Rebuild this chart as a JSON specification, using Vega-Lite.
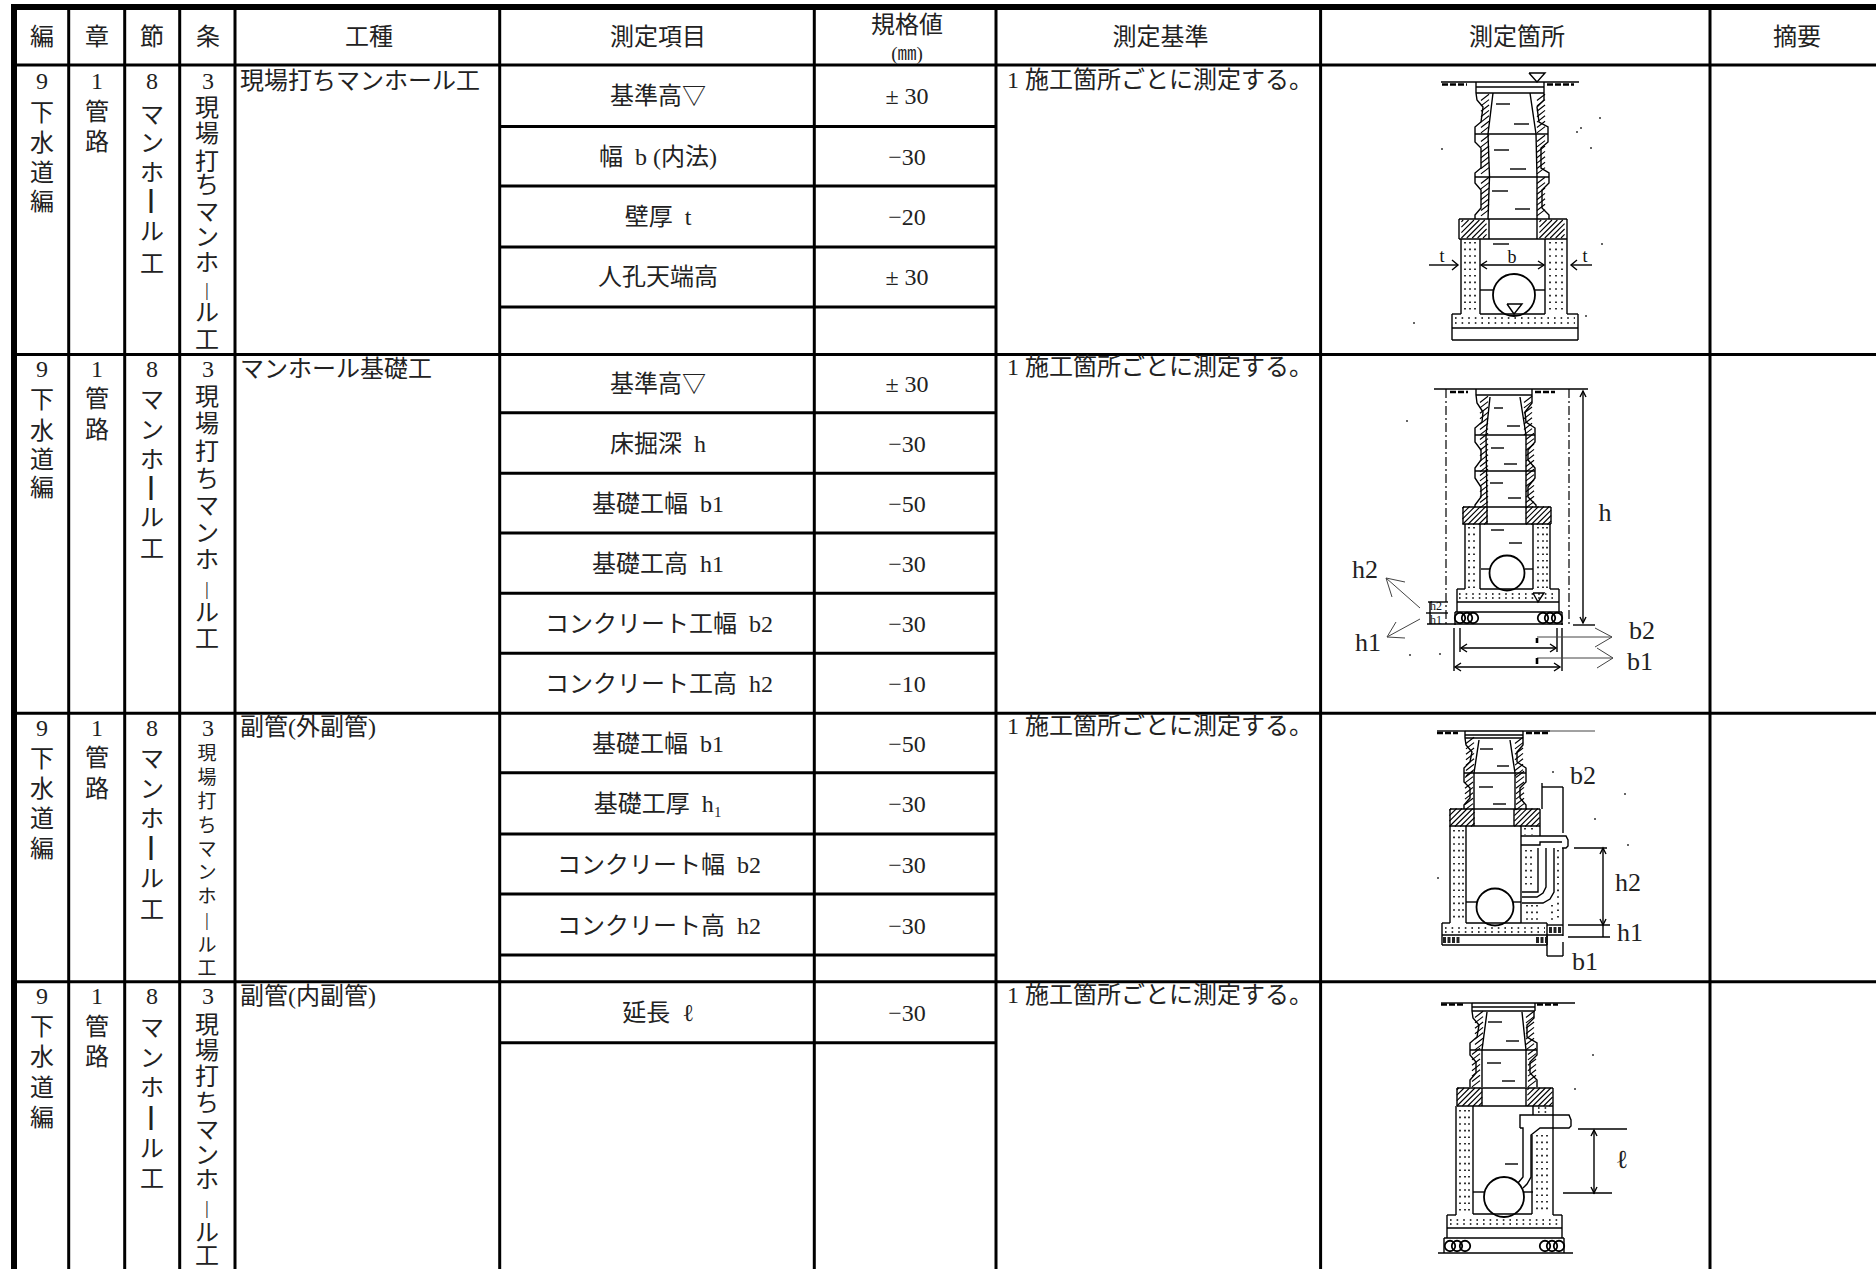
{"$schema":"https://vega.github.io/schema/vega-lite/v6.json","width":1876,"height":1269,"autosize":{"type":"none"},"padding":0,"background":"white","config":{"view":{"stroke":null}},
"datasets":{
"border":[{"x":11,"y":7,"x2":1876,"y2":7},{"x":14,"y":4,"x2":14,"y2":1269}],
"grid":[{"x":68.7,"y":7,"x2":68.7,"y2":1269},{"x":124.7,"y":7,"x2":124.7,"y2":1269},{"x":179.7,"y":7,"x2":179.7,"y2":1269},{"x":235,"y":7,"x2":235,"y2":1269},{"x":499.7,"y":7,"x2":499.7,"y2":1269},{"x":814.3,"y":7,"x2":814.3,"y2":1269},{"x":996,"y":7,"x2":996,"y2":1269},{"x":1320.6,"y":7,"x2":1320.6,"y2":1269},{"x":1710,"y":7,"x2":1710,"y2":1269},
{"x":14,"y":65,"x2":1876,"y2":65},{"x":14,"y":354.5,"x2":1876,"y2":354.5},{"x":14,"y":713.3,"x2":1876,"y2":713.3},{"x":14,"y":981.7,"x2":1876,"y2":981.7},
{"x":499.7,"y":126.5,"x2":996,"y2":126.5},{"x":499.7,"y":186,"x2":996,"y2":186},{"x":499.7,"y":247,"x2":996,"y2":247},{"x":499.7,"y":307,"x2":996,"y2":307},
{"x":499.7,"y":412.7,"x2":996,"y2":412.7},{"x":499.7,"y":473.3,"x2":996,"y2":473.3},{"x":499.7,"y":533,"x2":996,"y2":533},{"x":499.7,"y":593.3,"x2":996,"y2":593.3},{"x":499.7,"y":653.3,"x2":996,"y2":653.3},
{"x":499.7,"y":772.7,"x2":996,"y2":772.7},{"x":499.7,"y":834,"x2":996,"y2":834},{"x":499.7,"y":894,"x2":996,"y2":894},{"x":499.7,"y":955,"x2":996,"y2":955},{"x":499.7,"y":1042.7,"x2":996,"y2":1042.7}],
"cells":[{"x":42,"y":36,"t":"編"},{"x":97,"y":36,"t":"章"},{"x":152,"y":36,"t":"節"},{"x":208,"y":36,"t":"条"},{"x":369,"y":36,"t":"工種"},{"x":658,"y":36,"t":"測定項目"},{"x":907,"y":24,"t":"規格値"},{"x":1160.5,"y":36,"t":"測定基準"},{"x":1517,"y":36,"t":"測定箇所"},{"x":1797,"y":36,"t":"摘要"},
{"x":658,"y":95,"t":"基準高▽"},{"x":658,"y":156,"t":"幅\u00a0\u00a0b (内法)"},{"x":658,"y":216,"t":"壁厚\u00a0\u00a0t"},{"x":658,"y":276,"t":"人孔天端高"},
{"x":907,"y":95,"t":"± 30"},{"x":907,"y":156,"t":"−30"},{"x":907,"y":216,"t":"−20"},{"x":907,"y":276,"t":"± 30"},
{"x":658,"y":383,"t":"基準高▽"},{"x":658,"y":443,"t":"床掘深\u00a0\u00a0h"},{"x":658,"y":503,"t":"基礎工幅\u00a0\u00a0b1"},{"x":658,"y":563,"t":"基礎工高\u00a0\u00a0h1"},{"x":659,"y":623,"t":"コンクリート工幅\u00a0\u00a0b2"},{"x":659,"y":683,"t":"コンクリート工高\u00a0\u00a0h2"},
{"x":907,"y":383,"t":"± 30"},{"x":907,"y":443,"t":"−30"},{"x":907,"y":503,"t":"−50"},{"x":907,"y":563,"t":"−30"},{"x":907,"y":623,"t":"−30"},{"x":907,"y":683,"t":"−10"},
{"x":658,"y":743,"t":"基礎工幅\u00a0\u00a0b1"},{"x":658,"y":803,"t":"基礎工厚\u00a0\u00a0h₁"},{"x":659,"y":864,"t":"コンクリート幅\u00a0\u00a0b2"},{"x":659,"y":925,"t":"コンクリート高\u00a0\u00a0h2"},
{"x":907,"y":743,"t":"−50"},{"x":907,"y":803,"t":"−30"},{"x":907,"y":864,"t":"−30"},{"x":907,"y":925,"t":"−30"},
{"x":658,"y":1012,"t":"延長\u00a0\u00a0ℓ"},{"x":907,"y":1012,"t":"−30"},
{"x":42,"y":80,"t":"9"},{"x":42,"y":112,"t":"下"},{"x":42,"y":142,"t":"水"},{"x":42,"y":172,"t":"道"},{"x":42,"y":201,"t":"編"},{"x":97,"y":80,"t":"1"},{"x":97,"y":111,"t":"管"},{"x":97,"y":141,"t":"路"},
{"x":152,"y":80,"t":"8"},{"x":152,"y":114,"t":"マ"},{"x":152,"y":142,"t":"ン"},{"x":152,"y":172,"t":"ホ"},{"x":151,"y":201,"t":"┃"},{"x":152,"y":231,"t":"ル"},{"x":152,"y":263,"t":"工"},
{"x":208,"y":80,"t":"3"},{"x":207,"y":107,"t":"現"},{"x":207,"y":133,"t":"場"},{"x":207,"y":161,"t":"打"},{"x":207,"y":184,"t":"ち"},{"x":207,"y":211,"t":"マ"},{"x":207,"y":236,"t":"ン"},{"x":207,"y":262,"t":"ホ"},{"x":207,"y":312,"t":"ル"},{"x":207,"y":339,"t":"工"},
{"x":42,"y":368,"t":"9"},{"x":42,"y":399,"t":"下"},{"x":42,"y":430,"t":"水"},{"x":42,"y":459,"t":"道"},{"x":42,"y":487,"t":"編"},{"x":97,"y":368,"t":"1"},{"x":97,"y":398,"t":"管"},{"x":97,"y":429,"t":"路"},
{"x":152,"y":368,"t":"8"},{"x":152,"y":399,"t":"マ"},{"x":152,"y":429,"t":"ン"},{"x":152,"y":459,"t":"ホ"},{"x":151,"y":488,"t":"┃"},{"x":152,"y":517,"t":"ル"},{"x":152,"y":548,"t":"工"},
{"x":208,"y":368,"t":"3"},{"x":207,"y":396,"t":"現"},{"x":207,"y":423,"t":"場"},{"x":207,"y":451,"t":"打"},{"x":207,"y":478,"t":"ち"},{"x":207,"y":505,"t":"マ"},{"x":207,"y":532,"t":"ン"},{"x":207,"y":559,"t":"ホ"},{"x":207,"y":612,"t":"ル"},{"x":207,"y":638,"t":"工"},
{"x":42,"y":727,"t":"9"},{"x":42,"y":758,"t":"下"},{"x":42,"y":788,"t":"水"},{"x":42,"y":818,"t":"道"},{"x":42,"y":848,"t":"編"},{"x":97,"y":727,"t":"1"},{"x":97,"y":757,"t":"管"},{"x":97,"y":788,"t":"路"},
{"x":152,"y":727,"t":"8"},{"x":152,"y":758,"t":"マ"},{"x":152,"y":788,"t":"ン"},{"x":152,"y":818,"t":"ホ"},{"x":151,"y":848,"t":"┃"},{"x":152,"y":878,"t":"ル"},{"x":152,"y":909,"t":"工"},{"x":208,"y":727,"t":"3"},
{"x":42,"y":995,"t":"9"},{"x":42,"y":1026,"t":"下"},{"x":42,"y":1056,"t":"水"},{"x":42,"y":1087,"t":"道"},{"x":42,"y":1117,"t":"編"},{"x":97,"y":995,"t":"1"},{"x":97,"y":1026,"t":"管"},{"x":97,"y":1056,"t":"路"},
{"x":152,"y":995,"t":"8"},{"x":152,"y":1027,"t":"マ"},{"x":152,"y":1057,"t":"ン"},{"x":152,"y":1087,"t":"ホ"},{"x":151,"y":1118,"t":"┃"},{"x":152,"y":1148,"t":"ル"},{"x":152,"y":1178,"t":"工"},
{"x":208,"y":995,"t":"3"},{"x":207,"y":1024,"t":"現"},{"x":207,"y":1050,"t":"場"},{"x":207,"y":1076,"t":"打"},{"x":207,"y":1102,"t":"ち"},{"x":207,"y":1129,"t":"マ"},{"x":207,"y":1154,"t":"ン"},{"x":207,"y":1179,"t":"ホ"},{"x":207,"y":1232,"t":"ル"},{"x":207,"y":1255,"t":"工"}],
"small":[{"x":207,"y":754,"t":"現"},{"x":207,"y":778,"t":"場"},{"x":207,"y":802,"t":"打"},{"x":207,"y":826,"t":"ち"},{"x":207,"y":850,"t":"マ"},{"x":207,"y":873,"t":"ン"},{"x":207,"y":897,"t":"ホ"},{"x":207,"y":920,"t":"|"},{"x":207,"y":946,"t":"ル"},{"x":207,"y":969,"t":"工"},{"x":907,"y":54,"t":"(㎜)"},{"x":207,"y":290,"t":"|"},{"x":207,"y":589,"t":"|"},{"x":207,"y":1208,"t":"|"}],
"left":[{"x":240,"y":82,"t":"現場打ちマンホール工"},{"x":240,"y":370,"t":"マンホール基礎工"},{"x":240,"y":728,"t":"副管(外副管)"},{"x":240,"y":997,"t":"副管(内副管)"},{"x":1007,"y":81,"t":"1 施工箇所ごとに測定する。"},{"x":1007,"y":368,"t":"1 施工箇所ごとに測定する。"},{"x":1007,"y":727,"t":"1 施工箇所ごとに測定する。"},{"x":1007,"y":996,"t":"1 施工箇所ごとに測定する。"}],
"labels":[{"x":1605,"y":513,"t":"h"},{"x":1365,"y":570,"t":"h2"},{"x":1368,"y":643,"t":"h1"},{"x":1642,"y":631,"t":"b2"},{"x":1640,"y":662,"t":"b1"},{"x":1583,"y":776,"t":"b2"},{"x":1628,"y":883,"t":"h2"},{"x":1630,"y":933,"t":"h1"},{"x":1585,"y":962,"t":"b1"},{"x":1622,"y":1160,"t":"ℓ"}],
"mini":[{"x":1442,"y":257,"t":"t"},{"x":1585,"y":257,"t":"t"},{"x":1512,"y":258,"t":"b"}],
"tiny":[{"x":1436,"y":606,"t":"h2"},{"x":1436,"y":620,"t":"h1"}],
"seg":[{"x":1441,"y":82,"x2":1476,"y2":82},{"x":1544,"y":82,"x2":1579,"y2":82},{"x":1476,"y":82,"x2":1476,"y2":93},{"x":1544,"y":82,"x2":1544,"y2":93},{"x":1476,"y":82,"x2":1544,"y2":82},{"x":1476,"y":87,"x2":1544,"y2":87},{"x":1476,"y":93,"x2":1544,"y2":93},{"x":1475,"y":134,"x2":1548,"y2":134},{"x":1475,"y":177,"x2":1549,"y2":177},
{"x":1496,"y":104,"x2":1510,"y2":104},{"x":1514,"y":124,"x2":1529,"y2":124},{"x":1494,"y":150,"x2":1509,"y2":150},{"x":1510,"y":169,"x2":1526,"y2":169},{"x":1492,"y":191,"x2":1508,"y2":191},{"x":1515,"y":209,"x2":1530,"y2":209},{"x":1493,"y":244,"x2":1509,"y2":244},
{"x":1459,"y":219,"x2":1567,"y2":219},{"x":1459,"y":239,"x2":1567,"y2":239},{"x":1459,"y":219,"x2":1459,"y2":239},{"x":1567,"y":219,"x2":1567,"y2":239},{"x":1489,"y":219,"x2":1489,"y2":239},{"x":1537,"y":219,"x2":1537,"y2":239},
{"x":1461,"y":239,"x2":1461,"y2":314},{"x":1480,"y":239,"x2":1480,"y2":314},{"x":1545,"y":239,"x2":1545,"y2":314},{"x":1567,"y":239,"x2":1567,"y2":314},{"x":1452,"y":314,"x2":1461,"y2":314},{"x":1567,"y":314,"x2":1578,"y2":314},{"x":1480,"y":314,"x2":1545,"y2":314},{"x":1452,"y":314,"x2":1452,"y2":340},{"x":1578,"y":314,"x2":1578,"y2":340},{"x":1452,"y":328,"x2":1578,"y2":328},{"x":1452,"y":340,"x2":1578,"y2":340},
{"x":1480,"y":290,"x2":1493,"y2":290},{"x":1535,"y":290,"x2":1545,"y2":290},{"x":1481,"y":265,"x2":1544,"y2":265},{"x":1429,"y":265,"x2":1458,"y2":265},{"x":1571,"y":265,"x2":1592,"y2":265},
{"x":1434,"y":389,"x2":1588,"y2":389},{"x":1476,"y":389,"x2":1476,"y2":395},{"x":1532,"y":389,"x2":1532,"y2":395},{"x":1476,"y":395,"x2":1532,"y2":395},{"x":1475,"y":435,"x2":1535,"y2":435},{"x":1475,"y":471,"x2":1535,"y2":471},
{"x":1494,"y":408,"x2":1503,"y2":408},{"x":1507,"y":426,"x2":1520,"y2":426},{"x":1491,"y":448,"x2":1504,"y2":448},{"x":1504,"y":464,"x2":1517,"y2":464},{"x":1490,"y":483,"x2":1503,"y2":483},{"x":1508,"y":498,"x2":1521,"y2":498},{"x":1491,"y":530,"x2":1504,"y2":530},{"x":1509,"y":543,"x2":1522,"y2":543},
{"x":1463,"y":507,"x2":1551,"y2":507},{"x":1463,"y":524,"x2":1551,"y2":524},{"x":1463,"y":507,"x2":1463,"y2":524},{"x":1551,"y":507,"x2":1551,"y2":524},{"x":1487,"y":507,"x2":1487,"y2":524},{"x":1526,"y":507,"x2":1526,"y2":524},
{"x":1465,"y":524,"x2":1465,"y2":589},{"x":1480,"y":524,"x2":1480,"y2":589},{"x":1533,"y":524,"x2":1533,"y2":589},{"x":1550,"y":524,"x2":1550,"y2":589},{"x":1457,"y":589,"x2":1465,"y2":589},{"x":1480,"y":589,"x2":1533,"y2":589},{"x":1550,"y":589,"x2":1559,"y2":589},{"x":1457,"y":589,"x2":1457,"y2":612},{"x":1559,"y":589,"x2":1559,"y2":612},{"x":1457,"y":602,"x2":1559,"y2":602},{"x":1455,"y":612,"x2":1562,"y2":612},{"x":1455,"y":612,"x2":1455,"y2":625},{"x":1562,"y":612,"x2":1562,"y2":625},
{"x":1481,"y":569,"x2":1490,"y2":569},{"x":1525,"y":569,"x2":1533,"y2":569},{"x":1583,"y":391,"x2":1583,"y2":623},{"x":1573,"y":625,"x2":1595,"y2":625},{"x":1427,"y":624,"x2":1563,"y2":624},{"x":1428,"y":602,"x2":1448,"y2":602},{"x":1426,"y":613,"x2":1448,"y2":613},{"x":1430,"y":602,"x2":1430,"y2":624},
{"x":1454,"y":628,"x2":1454,"y2":671},{"x":1562,"y":628,"x2":1562,"y2":671},{"x":1460,"y":628,"x2":1460,"y2":652},{"x":1557,"y":628,"x2":1557,"y2":652},{"x":1461,"y":648,"x2":1556,"y2":648},{"x":1455,"y":667,"x2":1560,"y2":667},
{"x":1437,"y":731,"x2":1465,"y2":731},{"x":1523,"y":731,"x2":1550,"y2":731},{"x":1465,"y":731,"x2":1465,"y2":738},{"x":1523,"y":731,"x2":1523,"y2":738},{"x":1465,"y":731,"x2":1523,"y2":731},{"x":1465,"y":735,"x2":1523,"y2":735},{"x":1465,"y":738,"x2":1523,"y2":738},{"x":1464,"y":773,"x2":1526,"y2":773},
{"x":1480,"y":749,"x2":1493,"y2":749},{"x":1497,"y":766,"x2":1509,"y2":766},{"x":1479,"y":787,"x2":1493,"y2":787},{"x":1493,"y":804,"x2":1506,"y2":804},
{"x":1450,"y":809,"x2":1540,"y2":809},{"x":1450,"y":826,"x2":1540,"y2":826},{"x":1450,"y":809,"x2":1450,"y2":826},{"x":1540,"y":809,"x2":1540,"y2":836},{"x":1474,"y":809,"x2":1474,"y2":826},{"x":1514,"y":809,"x2":1514,"y2":826},
{"x":1450,"y":826,"x2":1450,"y2":923},{"x":1466,"y":826,"x2":1466,"y2":923},{"x":1521,"y":826,"x2":1521,"y2":923},{"x":1563,"y":848,"x2":1563,"y2":936},{"x":1466,"y":923,"x2":1521,"y2":923},{"x":1442,"y":923,"x2":1450,"y2":923},{"x":1521,"y":923,"x2":1547,"y2":923},{"x":1442,"y":923,"x2":1442,"y2":945},{"x":1547,"y":923,"x2":1547,"y2":945},{"x":1442,"y":935,"x2":1563,"y2":935},{"x":1442,"y":945,"x2":1547,"y2":945},{"x":1547,"y":925,"x2":1563,"y2":925},
{"x":1466,"y":902,"x2":1477,"y2":902},{"x":1513,"y":902,"x2":1521,"y2":902},{"x":1603,"y":848,"x2":1603,"y2":937},{"x":1574,"y":848,"x2":1607,"y2":848},{"x":1568,"y":925,"x2":1610,"y2":925},{"x":1568,"y":937,"x2":1610,"y2":937},
{"x":1542,"y":787,"x2":1563,"y2":787},{"x":1542,"y":783,"x2":1542,"y2":809},{"x":1563,"y":787,"x2":1563,"y2":833},{"x":1547,"y":956,"x2":1563,"y2":956},{"x":1547,"y":936,"x2":1547,"y2":956},{"x":1563,"y":942,"x2":1563,"y2":956},
{"x":1441,"y":1003,"x2":1472,"y2":1003},{"x":1535,"y":1003,"x2":1575,"y2":1003},{"x":1472,"y":1003,"x2":1472,"y2":1011},{"x":1535,"y":1003,"x2":1535,"y2":1011},{"x":1472,"y":1003,"x2":1535,"y2":1003},{"x":1472,"y":1007,"x2":1535,"y2":1007},{"x":1472,"y":1011,"x2":1535,"y2":1011},{"x":1470,"y":1050,"x2":1537,"y2":1050},
{"x":1488,"y":1022,"x2":1502,"y2":1022},{"x":1506,"y":1041,"x2":1519,"y2":1041},{"x":1487,"y":1063,"x2":1501,"y2":1063},{"x":1502,"y":1081,"x2":1515,"y2":1081},{"x":1505,"y":1164,"x2":1518,"y2":1164},
{"x":1457,"y":1088,"x2":1553,"y2":1088},{"x":1457,"y":1106,"x2":1553,"y2":1106},{"x":1457,"y":1088,"x2":1457,"y2":1106},{"x":1553,"y":1088,"x2":1553,"y2":1106},{"x":1482,"y":1088,"x2":1482,"y2":1106},{"x":1526,"y":1088,"x2":1526,"y2":1106},
{"x":1456,"y":1106,"x2":1456,"y2":1215},{"x":1473,"y":1106,"x2":1473,"y2":1214},{"x":1533,"y":1106,"x2":1533,"y2":1115},{"x":1532,"y":1135,"x2":1532,"y2":1214},{"x":1553,"y":1106,"x2":1553,"y2":1215},{"x":1473,"y":1214,"x2":1532,"y2":1214},{"x":1447,"y":1215,"x2":1456,"y2":1215},{"x":1553,"y":1215,"x2":1562,"y2":1215},{"x":1447,"y":1215,"x2":1447,"y2":1238},{"x":1562,"y":1215,"x2":1562,"y2":1238},{"x":1447,"y":1228,"x2":1562,"y2":1228},{"x":1444,"y":1238,"x2":1564,"y2":1238},{"x":1444,"y":1238,"x2":1444,"y2":1253},{"x":1564,"y":1238,"x2":1564,"y2":1253},{"x":1438,"y":1253,"x2":1573,"y2":1253},
{"x":1473,"y":1192,"x2":1484,"y2":1192},{"x":1524,"y":1192,"x2":1533,"y2":1192},{"x":1594,"y":1130,"x2":1594,"y2":1194},{"x":1578,"y":1129,"x2":1627,"y2":1129},{"x":1563,"y":1193,"x2":1612,"y2":1193}],
"thin":[{"x":1420,"y":608,"x2":1386,"y2":578},{"x":1386,"y":578,"x2":1405,"y2":582},{"x":1386,"y":578,"x2":1392,"y2":597},{"x":1420,"y":619,"x2":1387,"y2":637},{"x":1387,"y":637,"x2":1396,"y2":622},{"x":1387,"y":637,"x2":1405,"y2":638},{"x":1537,"y":637,"x2":1612,"y2":637},{"x":1595,"y":628,"x2":1612,"y2":637},{"x":1612,"y":637,"x2":1595,"y2":647},{"x":1537,"y":658,"x2":1613,"y2":658},{"x":1597,"y":648,"x2":1613,"y2":658},{"x":1613,"y":658,"x2":1597,"y2":668},{"x":1550,"y":731,"x2":1595,"y2":731}],
"dashdot":[{"x":1446,"y":389,"x2":1446,"y2":625},{"x":1569,"y":389,"x2":1569,"y2":625}],
"dots":[{"x":1465,"y":242,"x2":1465,"y2":313},{"x":1470,"y":242,"x2":1470,"y2":313},{"x":1475,"y":242,"x2":1475,"y2":313},{"x":1550,"y":242,"x2":1550,"y2":313},{"x":1556,"y":242,"x2":1556,"y2":313},{"x":1562,"y":242,"x2":1562,"y2":313},{"x":1455,"y":318,"x2":1575,"y2":318},{"x":1455,"y":323,"x2":1575,"y2":323},
{"x":1469,"y":527,"x2":1469,"y2":588},{"x":1474,"y":527,"x2":1474,"y2":588},{"x":1538,"y":527,"x2":1538,"y2":588},{"x":1543,"y":527,"x2":1543,"y2":588},{"x":1547,"y":527,"x2":1547,"y2":588},{"x":1459,"y":594,"x2":1557,"y2":594},{"x":1459,"y":598,"x2":1557,"y2":598},
{"x":1454,"y":830,"x2":1454,"y2":920},{"x":1459,"y":830,"x2":1459,"y2":920},{"x":1463,"y":830,"x2":1463,"y2":920},{"x":1445,"y":928,"x2":1545,"y2":928},{"x":1445,"y":932,"x2":1545,"y2":932},{"x":1526,"y":850,"x2":1526,"y2":888},{"x":1531,"y":850,"x2":1531,"y2":888},{"x":1558,"y":850,"x2":1558,"y2":922},{"x":1527,"y":905,"x2":1527,"y2":922},{"x":1532,"y":905,"x2":1532,"y2":922},{"x":1537,"y":905,"x2":1537,"y2":922},{"x":1552,"y":905,"x2":1552,"y2":922},{"x":1525,"y":828,"x2":1525,"y2":835},{"x":1532,"y":828,"x2":1532,"y2":835},
{"x":1460,"y":1110,"x2":1460,"y2":1212},{"x":1465,"y":1110,"x2":1465,"y2":1212},{"x":1469,"y":1110,"x2":1469,"y2":1212},{"x":1537,"y":1135,"x2":1537,"y2":1212},{"x":1542,"y":1135,"x2":1542,"y2":1212},{"x":1547,"y":1135,"x2":1547,"y2":1212},{"x":1450,"y":1220,"x2":1560,"y2":1220},{"x":1450,"y":1224,"x2":1560,"y2":1224},{"x":1538,"y":1108,"x2":1548,"y2":1108},{"x":1538,"y":1112,"x2":1548,"y2":1112}],
"grass":[{"x":1442,"y":84.5,"x2":1467,"y2":84.5},{"x":1547,"y":84.5,"x2":1574,"y2":84.5},{"x":1450,"y":392,"x2":1468,"y2":392},{"x":1535,"y":392,"x2":1555,"y2":392},{"x":1437,"y":733,"x2":1458,"y2":733},{"x":1526,"y":733,"x2":1550,"y2":733},{"x":1441,"y":1004.5,"x2":1463,"y2":1004.5},{"x":1537,"y":1004.5,"x2":1558,"y2":1004.5},{"x":1537,"y":638,"x2":1537,"y2":643},{"x":1537,"y":658,"x2":1537,"y2":666}],
"blob":[{"x":1443,"y":940,"x2":1460,"y2":940},{"x":1536,"y":940,"x2":1546,"y2":940},{"x":1549,"y":930,"x2":1561,"y2":930}],
"specks":[{"x":1600,"y":118},{"x":1577,"y":132},{"x":1581,"y":128},{"x":1591,"y":148},{"x":1442,"y":149},{"x":1602,"y":244},{"x":1586,"y":316},{"x":1414,"y":323},{"x":1407,"y":421},{"x":1440,"y":654},{"x":1410,"y":655},{"x":1628,"y":845},{"x":1595,"y":819},{"x":1625,"y":794},{"x":1438,"y":878},{"x":1553,"y":772},{"x":1593,"y":1055},{"x":1575,"y":1089}],
"walls":[{"x":1485,"y":114},{"x":1485,"y":155},{"x":1485,"y":197},{"x":1541,"y":114},{"x":1541,"y":155},{"x":1541,"y":197},{"x":1484,"y":416},{"x":1484,"y":453},{"x":1484,"y":489},{"x":1528,"y":416},{"x":1530,"y":453},{"x":1530,"y":489},{"x":1470,"y":757},{"x":1469,"y":791},{"x":1519,"y":757},{"x":1520,"y":791},{"x":1479,"y":1031},{"x":1476,"y":1068},{"x":1530,"y":1031},{"x":1532,"y":1068}],
"slabs":[{"x":1474,"y":229},{"x":1552,"y":229},{"x":1475,"y":515.5},{"x":1538.5,"y":515.5},{"x":1462,"y":817.5},{"x":1527,"y":817.5},{"x":1469.5,"y":1097},{"x":1540,"y":1097}],
"circles":[{"x":1514,"y":295,"area":1764},{"x":1507,"y":573,"area":1225},{"x":1495,"y":907,"area":1369},{"x":1504,"y":1197,"area":1600},{"x":1460,"y":618,"area":110},{"x":1467,"y":618,"area":110},{"x":1473,"y":618,"area":110},{"x":1543,"y":618,"area":110},{"x":1550,"y":618,"area":110},{"x":1557,"y":618,"area":110},{"x":1450,"y":1246,"area":110},{"x":1457,"y":1246,"area":110},{"x":1465,"y":1246,"area":110},{"x":1545,"y":1246,"area":110},{"x":1552,"y":1246,"area":110},{"x":1559,"y":1246,"area":110}],
"paths":[{"i":1,"x":1476,"y":93},{"i":1,"x":1477,"y":100},{"i":1,"x":1483,"y":107},{"i":1,"x":1481,"y":122},{"i":1,"x":1475,"y":127},{"i":1,"x":1475,"y":142},{"i":1,"x":1481,"y":148},{"i":1,"x":1481,"y":168},{"i":1,"x":1475,"y":173},{"i":1,"x":1475,"y":183},{"i":1,"x":1481,"y":190},{"i":1,"x":1481,"y":208},{"i":1,"x":1475,"y":215},{"i":1,"x":1475,"y":219},
{"i":2,"x":1544,"y":93},{"i":2,"x":1544,"y":100},{"i":2,"x":1537,"y":107},{"i":2,"x":1539,"y":122},{"i":2,"x":1548,"y":127},{"i":2,"x":1548,"y":142},{"i":2,"x":1541,"y":148},{"i":2,"x":1541,"y":168},{"i":2,"x":1549,"y":173},{"i":2,"x":1549,"y":183},{"i":2,"x":1542,"y":190},{"i":2,"x":1542,"y":208},{"i":2,"x":1549,"y":215},{"i":2,"x":1549,"y":219},
{"i":3,"x":1493,"y":93},{"i":3,"x":1488,"y":134},{"i":3,"x":1489.5,"y":177},{"i":3,"x":1488,"y":219},{"i":4,"x":1530,"y":93},{"i":4,"x":1536,"y":134},{"i":4,"x":1537,"y":177},{"i":4,"x":1537,"y":219},
{"i":5,"x":1529,"y":73},{"i":5,"x":1545,"y":73},{"i":5,"x":1537,"y":82},{"i":5,"x":1529,"y":73},{"i":6,"x":1507,"y":304},{"i":6,"x":1522,"y":304},{"i":6,"x":1514,"y":314},{"i":6,"x":1507,"y":304},
{"i":7,"x":1487,"y":261},{"i":7,"x":1481,"y":265},{"i":7,"x":1487,"y":269},{"i":8,"x":1538,"y":261},{"i":8,"x":1544,"y":265},{"i":8,"x":1538,"y":269},{"i":9,"x":1452,"y":260},{"i":9,"x":1458,"y":265},{"i":9,"x":1452,"y":270},{"i":10,"x":1577,"y":260},{"i":10,"x":1571,"y":265},{"i":10,"x":1577,"y":270},
{"i":11,"x":1476,"y":395},{"i":11,"x":1477,"y":403},{"i":11,"x":1483,"y":412},{"i":11,"x":1482,"y":422},{"i":11,"x":1475,"y":428},{"i":11,"x":1475,"y":442},{"i":11,"x":1481,"y":450},{"i":11,"x":1481,"y":460},{"i":11,"x":1475,"y":468},{"i":11,"x":1475,"y":478},{"i":11,"x":1481,"y":487},{"i":11,"x":1481,"y":497},{"i":11,"x":1475,"y":505},{"i":11,"x":1475,"y":507},
{"i":12,"x":1532,"y":395},{"i":12,"x":1532,"y":403},{"i":12,"x":1525,"y":412},{"i":12,"x":1526,"y":422},{"i":12,"x":1535,"y":428},{"i":12,"x":1535,"y":442},{"i":12,"x":1528,"y":450},{"i":12,"x":1528,"y":460},{"i":12,"x":1535,"y":468},{"i":12,"x":1535,"y":478},{"i":12,"x":1528,"y":487},{"i":12,"x":1528,"y":497},{"i":12,"x":1536,"y":505},{"i":12,"x":1536,"y":507},
{"i":13,"x":1490,"y":397},{"i":13,"x":1486,"y":435},{"i":13,"x":1487,"y":507},{"i":14,"x":1520,"y":397},{"i":14,"x":1526,"y":435},{"i":14,"x":1526,"y":507},{"i":15,"x":1533,"y":593},{"i":15,"x":1544,"y":593},{"i":15,"x":1538,"y":602},{"i":15,"x":1533,"y":593},
{"i":16,"x":1580,"y":397},{"i":16,"x":1583,"y":391},{"i":16,"x":1586,"y":397},{"i":17,"x":1580,"y":617},{"i":17,"x":1583,"y":623},{"i":17,"x":1586,"y":617},{"i":18,"x":1467,"y":644},{"i":18,"x":1461,"y":648},{"i":18,"x":1467,"y":652},{"i":19,"x":1550,"y":644},{"i":19,"x":1556,"y":648},{"i":19,"x":1550,"y":652},{"i":20,"x":1461,"y":663},{"i":20,"x":1455,"y":667},{"i":20,"x":1461,"y":671},{"i":21,"x":1554,"y":663},{"i":21,"x":1560,"y":667},{"i":21,"x":1554,"y":671},
{"i":22,"x":1465,"y":738},{"i":22,"x":1466,"y":745},{"i":22,"x":1472,"y":752},{"i":22,"x":1470,"y":762},{"i":22,"x":1464,"y":768},{"i":22,"x":1464,"y":782},{"i":22,"x":1470,"y":788},{"i":22,"x":1470,"y":798},{"i":22,"x":1464,"y":805},{"i":22,"x":1464,"y":809},
{"i":23,"x":1523,"y":738},{"i":23,"x":1523,"y":745},{"i":23,"x":1517,"y":752},{"i":23,"x":1517,"y":762},{"i":23,"x":1526,"y":768},{"i":23,"x":1526,"y":782},{"i":23,"x":1520,"y":788},{"i":23,"x":1520,"y":798},{"i":23,"x":1526,"y":805},{"i":23,"x":1526,"y":809},
{"i":24,"x":1479,"y":740},{"i":24,"x":1474,"y":773},{"i":24,"x":1474,"y":809},{"i":25,"x":1510,"y":740},{"i":25,"x":1515,"y":773},{"i":25,"x":1515,"y":809},
{"i":26,"x":1521,"y":836},{"i":26,"x":1566,"y":836},{"i":26,"x":1568,"y":840},{"i":26,"x":1568,"y":846},{"i":26,"x":1566,"y":848},{"i":26,"x":1562,"y":848},
{"i":27,"x":1546,"y":848},{"i":27,"x":1546,"y":887},{"i":27,"x":1543,"y":893},{"i":27,"x":1537,"y":897},{"i":27,"x":1522,"y":897},{"i":28,"x":1554,"y":848},{"i":28,"x":1554,"y":892},{"i":28,"x":1550,"y":899},{"i":28,"x":1543,"y":903},{"i":28,"x":1522,"y":903},{"i":29,"x":1538,"y":848},{"i":29,"x":1538,"y":892},{"i":29,"x":1522,"y":892},{"i":30,"x":1521,"y":845},{"i":30,"x":1540,"y":845},{"i":30,"x":1540,"y":842},{"i":30,"x":1562,"y":842},
{"i":31,"x":1472,"y":1011},{"i":31,"x":1473,"y":1018},{"i":31,"x":1479,"y":1025},{"i":31,"x":1477,"y":1037},{"i":31,"x":1470,"y":1043},{"i":31,"x":1470,"y":1055},{"i":31,"x":1476,"y":1062},{"i":31,"x":1476,"y":1073},{"i":31,"x":1470,"y":1080},{"i":31,"x":1470,"y":1087},
{"i":32,"x":1534,"y":1011},{"i":32,"x":1534,"y":1018},{"i":32,"x":1527,"y":1025},{"i":32,"x":1527,"y":1037},{"i":32,"x":1537,"y":1043},{"i":32,"x":1537,"y":1055},{"i":32,"x":1530,"y":1062},{"i":32,"x":1530,"y":1073},{"i":32,"x":1537,"y":1080},{"i":32,"x":1537,"y":1087},
{"i":33,"x":1487,"y":1012},{"i":33,"x":1482,"y":1050},{"i":33,"x":1482,"y":1087},{"i":34,"x":1522,"y":1012},{"i":34,"x":1526,"y":1050},{"i":34,"x":1526,"y":1087},
{"i":35,"x":1520,"y":1128},{"i":35,"x":1520,"y":1115},{"i":35,"x":1569,"y":1115},{"i":35,"x":1571,"y":1120},{"i":35,"x":1571,"y":1126},{"i":35,"x":1569,"y":1128},{"i":35,"x":1540,"y":1128},{"i":35,"x":1531,"y":1135},{"i":35,"x":1531,"y":1177},{"i":35,"x":1527,"y":1184},{"i":35,"x":1523,"y":1188},
{"i":36,"x":1520,"y":1128},{"i":36,"x":1523,"y":1128},{"i":36,"x":1523,"y":1177},{"i":36,"x":1518,"y":1183},
{"i":37,"x":1591,"y":1136},{"i":37,"x":1594,"y":1130},{"i":37,"x":1597,"y":1136},{"i":38,"x":1591,"y":1187},{"i":38,"x":1594,"y":1193},{"i":38,"x":1597,"y":1187},{"i":39,"x":1600,"y":854},{"i":39,"x":1603,"y":848},{"i":39,"x":1606,"y":854},{"i":40,"x":1600,"y":919},{"i":40,"x":1603,"y":925},{"i":40,"x":1606,"y":919}]
},
"encoding":{"x":{"field":"x","type":"quantitative","axis":null,"scale":{"domain":[0,1876],"nice":false,"zero":false}},"y":{"field":"y","type":"quantitative","axis":null,"scale":{"domain":[1269,0],"nice":false,"zero":false}}},
"layer":[
{"data":{"name":"grid"},"mark":{"type":"rule","stroke":"#000","strokeWidth":3},"encoding":{"x2":{"field":"x2"},"y2":{"field":"y2"}}},
{"data":{"name":"border"},"mark":{"type":"rule","stroke":"#000","strokeWidth":6},"encoding":{"x2":{"field":"x2"},"y2":{"field":"y2"}}},
{"data":{"name":"cells"},"mark":{"type":"text","font":"Liberation Serif, Noto Sans CJK JP","fontSize":24,"align":"center","baseline":"middle","fill":"#222","dy":1.5},"encoding":{"text":{"field":"t"}}},
{"data":{"name":"small"},"mark":{"type":"text","font":"Liberation Serif, Noto Sans CJK JP","fontSize":19,"align":"center","baseline":"middle","fill":"#222"},"encoding":{"text":{"field":"t"}}},
{"data":{"name":"left"},"mark":{"type":"text","font":"Liberation Serif, Noto Sans CJK JP","fontSize":24,"align":"left","baseline":"middle","fill":"#222"},"encoding":{"text":{"field":"t"}}},
{"data":{"name":"labels"},"mark":{"type":"text","font":"Liberation Serif","fontSize":26,"align":"center","baseline":"middle","fill":"#222"},"encoding":{"text":{"field":"t"}}},
{"data":{"name":"mini"},"mark":{"type":"text","font":"Liberation Serif","fontSize":18,"align":"center","baseline":"middle","fill":"#111"},"encoding":{"text":{"field":"t"}}},
{"data":{"name":"tiny"},"mark":{"type":"text","font":"Liberation Serif","fontSize":12,"align":"center","baseline":"middle","fill":"#111"},"encoding":{"text":{"field":"t"}}},
{"data":{"name":"seg"},"mark":{"type":"rule","stroke":"#000","strokeWidth":1.4},"encoding":{"x2":{"field":"x2"},"y2":{"field":"y2"}}},
{"data":{"name":"thin"},"mark":{"type":"rule","stroke":"#444","strokeWidth":1},"encoding":{"x2":{"field":"x2"},"y2":{"field":"y2"}}},
{"data":{"name":"dashdot"},"mark":{"type":"rule","stroke":"#000","strokeWidth":1.2,"strokeDash":[9,3,2,3]},"encoding":{"x2":{"field":"x2"},"y2":{"field":"y2"}}},
{"data":{"name":"dots"},"mark":{"type":"rule","stroke":"#000","strokeWidth":1.6,"strokeDash":[1.6,5]},"encoding":{"x2":{"field":"x2"},"y2":{"field":"y2"}}},
{"data":{"name":"grass"},"mark":{"type":"rule","stroke":"#000","strokeWidth":2.6,"strokeDash":[6,2]},"encoding":{"x2":{"field":"x2"},"y2":{"field":"y2"}}},
{"data":{"name":"blob"},"mark":{"type":"rule","stroke":"#222","strokeWidth":6,"strokeDash":[3,1.5]},"encoding":{"x2":{"field":"x2"},"y2":{"field":"y2"}}},
{"data":{"name":"specks"},"mark":{"type":"point","shape":"circle","filled":true,"fill":"#333","size":4,"opacity":1,"strokeWidth":0}},
{"data":{"name":"walls"},"mark":{"type":"point","filled":false,"fill":null,"stroke":"#000","strokeWidth":1.1,"size":324,"opacity":1,"shape":"M-.45 -1.5L.45 -2.2M-.45 -.9L.45 -1.6M-.45 -.3L.45 -1M-.45 .3L.45 -.4M-.45 .9L.45 .2M-.45 1.5L.45 .8M-.45 2.1L.45 1.4"}},
{"data":{"name":"slabs"},"mark":{"type":"point","filled":false,"fill":null,"stroke":"#000","strokeWidth":1.1,"size":324,"opacity":1,"shape":"M-1.4 -.8L-1.2 -1M-1.4 -.2L-.6 -1M-1.4 .4L0 -1M-1.4 1L.6 -1M-.8 1L1.2 -1M-.2 1L1.4 -.6M.4 1L1.4 0M1 1L1.4 .6"}},
{"data":{"name":"circles"},"mark":{"type":"point","shape":"circle","filled":false,"stroke":"#000","strokeWidth":1.8,"opacity":1},"encoding":{"size":{"field":"area","type":"quantitative","scale":null,"legend":null}}},
{"data":{"name":"paths"},"transform":[{"window":[{"op":"row_number","as":"o"}]}],"mark":{"type":"line","stroke":"#000","strokeWidth":1.4},"encoding":{"detail":{"field":"i"},"order":{"field":"o"}}}
]}
